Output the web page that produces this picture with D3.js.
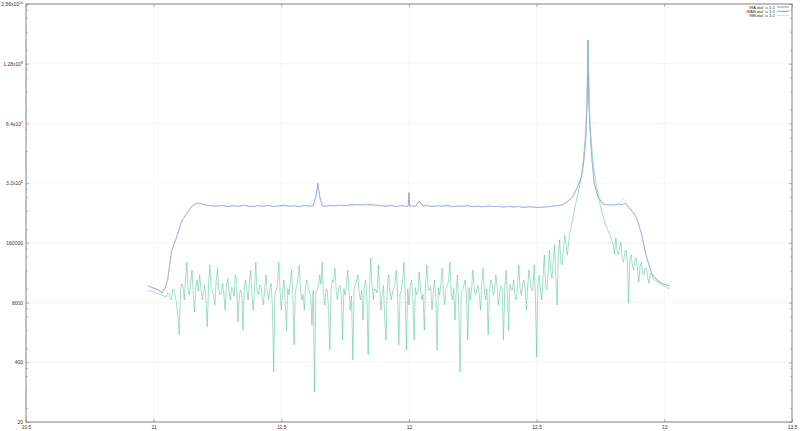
<!DOCTYPE html>
<html><head><meta charset="utf-8">
<script src="https://cdn.jsdelivr.net/npm/d3@7"></script>
<style>html,body{margin:0;padding:0;background:#fff;}svg{display:block;font-family:"Liberation Sans",Arial,sans-serif;}</style>
</head><body>
<svg id="c" width="800" height="431"></svg>
<script>
// ---------- data ----------
const xTicks = [10.5, 11, 11.5, 12, 12.5, 13, 13.5];
const xTickLabels = ["10.5", "11", "11.5", "12", "12.5", "13", "13.5"];
const yTicks = [20, 400, 8000, 160000, 3.2e6, 6.4e7, 1.28e9, 2.56e10];
const yLabelBase = ["20", "400", "8000", "160000", "3.2x10", "6.4x10", "1.28x10", "2.56x10"];
const yLabelExp = ["", "", "", "", "6", "7", "9", "10"];
const yMinorFactors = [2, 5, 10, 15];
const seriesNames = ["'fffA.dat' u 1:2", "'fffAB.dat' u 1:2", "'fffB.dat' u 1:2"];

const aX = [10.978, 11.0, 11.02, 11.033, 11.045, 11.055, 11.07, 11.09, 11.11, 11.13, 11.15, 11.17, 11.19, 11.21, 11.23,
  11.25, 11.27, 11.29, 11.31, 11.33, 11.35, 11.37, 11.39, 11.41, 11.43, 11.45, 11.47, 11.49, 11.51, 11.53, 11.55, 11.57, 11.59, 11.61,
  11.625, 11.635, 11.643, 11.65, 11.66, 11.67, 11.69, 11.71, 11.73, 11.75, 11.77, 11.79, 11.81, 11.83, 11.85, 11.87, 11.89, 11.91, 11.93, 11.95, 11.97, 11.99,
  11.997, 12.0, 12.003, 12.01, 12.025, 12.04, 12.055, 12.07, 12.09, 12.11, 12.13, 12.15, 12.17, 12.19, 12.21, 12.23, 12.25, 12.27, 12.29, 12.31, 12.33, 12.35,
  12.37, 12.39, 12.41, 12.43, 12.45, 12.47, 12.49, 12.51, 12.53, 12.55, 12.57, 12.6, 12.62, 12.64, 12.66, 12.675, 12.685, 12.693, 12.698, 12.701,
  12.704, 12.708, 12.715, 12.725, 12.74, 12.76, 12.78, 12.8, 12.82, 12.835, 12.845, 12.855, 12.87, 12.89, 12.91, 12.93, 12.95, 12.97, 12.99, 13.02];
const aY = [1.84e4, 1.66e4, 1.5e4, 1.29e4, 1.66e4, 2.5e4, 1.03e5, 2.15e5, 4.8e5, 7.1e5, 1.02e6, 1.18e6, 1.12e6, 1.05e6, 1.02e6,
  1.02e6, 1.05e6, 0.99e6, 1.03e6, 1.0e6, 1.06e6, 1.01e6, 0.98e6, 1.04e6, 1.0e6, 1.05e6, 0.99e6, 1.02e6, 1.06e6, 1.0e6, 1.03e6, 0.98e6, 1.04e6, 1.01e6,
  1.03e6, 1.6e6, 3.2e6, 1.7e6, 1.02e6, 1.0e6, 1.05e6, 1.02e6, 1.06e6, 1.03e6, 1.08e6, 1.1e6, 1.07e6, 1.11e6, 1.08e6, 1.06e6, 1.04e6, 1.0e6, 1.04e6, 0.99e6, 1.03e6, 1.0e6,
  1.02e6, 2.0e6, 1.0e6, 1.03e6, 1.0e6, 1.3e6, 1.01e6, 1.04e6, 0.99e6, 1.03e6, 1.0e6, 1.05e6, 0.98e6, 1.02e6, 1.0e6, 1.04e6, 0.98e6, 1.01e6, 0.97e6, 1.02e6, 0.99e6, 1.0e6,
  0.96e6, 1.0e6, 0.97e6, 0.99e6, 0.95e6, 0.98e6, 0.96e6, 0.94e6, 0.97e6, 0.99e6, 1.02e6, 1.07e6, 1.24e6, 1.6e6, 2.6e6, 4.36e6, 1.02e7, 3.24e7, 2.07e8, 4.2e9,
  2.07e8, 5.9e7, 1.3e7, 3.2e6, 1.6e6, 1.12e6, 1.07e6, 1.07e6, 1.12e6, 1.07e6, 1.18e6, 1.02e6, 8.3e5, 5.85e5, 2.62e5, 7.9e4, 3.5e4, 2.5e4, 2.1e4, 1.84e4];

const abX = [10.978, 11.0, 11.02, 11.04,
  11.05, 11.055, 11.06, 11.065, 11.07, 11.075, 11.08, 11.085, 11.09, 11.095, 11.10, 11.105, 11.11, 11.115, 11.12, 11.125, 11.13, 11.135, 11.14, 11.145,
  11.15, 11.155, 11.16, 11.165, 11.17, 11.175, 11.18, 11.185, 11.19, 11.195, 11.20, 11.205, 11.21, 11.215, 11.22, 11.225, 11.23, 11.235, 11.24, 11.245,
  11.25, 11.255, 11.26, 11.265, 11.27, 11.275, 11.28, 11.285, 11.29, 11.295, 11.30, 11.305, 11.31, 11.315, 11.32, 11.325, 11.33, 11.335, 11.34, 11.345,
  11.35, 11.355, 11.36, 11.365, 11.37, 11.375, 11.38, 11.385, 11.39, 11.395, 11.40, 11.405, 11.41, 11.415, 11.42, 11.425, 11.43, 11.435, 11.44, 11.445,
  11.45, 11.455, 11.46, 11.465, 11.47, 11.475, 11.48, 11.485, 11.49, 11.495, 11.50, 11.505, 11.51, 11.515, 11.52, 11.525, 11.53, 11.535, 11.54, 11.545,
  11.55, 11.555, 11.56, 11.565, 11.57, 11.575, 11.58, 11.585, 11.59, 11.595, 11.60, 11.605, 11.61, 11.615, 11.62, 11.625, 11.63, 11.635, 11.64, 11.645,
  11.65, 11.655, 11.66, 11.665, 11.67, 11.675, 11.68, 11.685, 11.69, 11.695, 11.70, 11.705, 11.71, 11.715, 11.72, 11.725, 11.73, 11.735, 11.74, 11.745,
  11.75, 11.755, 11.76, 11.765, 11.77, 11.775, 11.78, 11.785, 11.79, 11.795, 11.80, 11.805, 11.81, 11.815, 11.82, 11.825, 11.83, 11.835, 11.84, 11.845,
  11.85, 11.855, 11.86, 11.865, 11.87, 11.875, 11.88, 11.885, 11.89, 11.895, 11.90, 11.905, 11.91, 11.915, 11.92, 11.925, 11.93, 11.935, 11.94, 11.945,
  11.95, 11.955, 11.96, 11.965, 11.97, 11.975, 11.98, 11.985, 11.99, 11.995, 12.00, 12.005, 12.01, 12.015, 12.02, 12.025, 12.03, 12.035, 12.04, 12.045,
  12.05, 12.055, 12.06, 12.065, 12.07, 12.075, 12.08, 12.085, 12.09, 12.095, 12.10, 12.105, 12.11, 12.115, 12.12, 12.125, 12.13, 12.135, 12.14, 12.145,
  12.15, 12.155, 12.16, 12.165, 12.17, 12.175, 12.18, 12.185, 12.19, 12.195, 12.20, 12.205, 12.21, 12.215, 12.22, 12.225, 12.23, 12.235, 12.24, 12.245,
  12.25, 12.255, 12.26, 12.265, 12.27, 12.275, 12.28, 12.285, 12.29, 12.295, 12.30, 12.305, 12.31, 12.315, 12.32, 12.325, 12.33, 12.335, 12.34, 12.345,
  12.35, 12.355, 12.36, 12.365, 12.37, 12.375, 12.38, 12.385, 12.39, 12.395, 12.40, 12.405, 12.41, 12.415, 12.42, 12.425, 12.43, 12.435, 12.44, 12.445,
  12.45, 12.455, 12.46, 12.465, 12.47, 12.475, 12.48, 12.485, 12.49, 12.495, 12.50, 12.505, 12.51, 12.515, 12.52, 12.525, 12.53, 12.535, 12.54, 12.545,
  12.55, 12.555, 12.56, 12.565, 12.57, 12.575, 12.58, 12.585, 12.59, 12.595, 12.60, 12.605, 12.61, 12.615, 12.62,
  12.63, 12.65, 12.665, 12.68, 12.69, 12.697, 12.701, 12.705, 12.71, 12.72, 12.73, 12.75, 12.77, 12.79,
  12.80, 12.805, 12.81, 12.815, 12.82, 12.825, 12.83, 12.835, 12.84, 12.845, 12.85, 12.855, 12.86, 12.865, 12.87, 12.875, 12.88, 12.885, 12.89, 12.895,
  12.90, 12.905, 12.91, 12.915, 12.92, 12.925, 12.93, 12.935, 12.94, 12.945, 12.95, 12.96, 12.98, 13.00, 13.02];
const abY = [1.5e4, 1.36e4, 1.23e4, 1.11e4,
  1.06e4, 1.3e4, 1.23e4, 1.0e4, 9.1e3, 1.6e4, 1.5e4, 1.1e4, 7.1e3, 4.0e3, 1.57e3, 1.4e4, 2.03e4, 1.8e4, 9.1e3, 2.6e4, 6.1e4, 1.5e4, 1.17e4, 2.2e4,
  4.1e4, 1.2e4, 5.0e3, 1.8e4, 2.5e4, 1.4e4, 3.2e4, 1.7e4, 9.1e3, 1.3e4, 1.9e4, 9.0e3, 2.35e3, 2.0e4, 5.3e4, 1.6e4, 1.5e4, 1.1e4, 7.1e3, 2.4e4,
  4.5e4, 1.5e4, 1.17e4, 1.3e4, 2.1e4, 1.2e4, 5.5e3, 1.9e4, 2.7e4, 1.4e4, 9.1e3, 1.7e4, 1.66e4, 1.1e4, 3.2e4, 2.1e4, 3.0e3, 1.0e4, 1.5e4, 1.3e4,
  2.0e3, 1.8e4, 2.5e4, 1.5e4, 9.1e3, 2.2e4, 4.1e4, 1.2e4, 5.5e3, 1.6e4, 6.1e4, 1.4e4, 1.17e4, 1.9e4, 1.9e4, 1.1e4, 7.1e3, 1.7e4, 3.2e4, 1.3e4,
  9.1e3, 1.6e4, 2.1e4, 6.0e3, 245, 1.2e4, 1.5e4, 2.0e4, 6.1e4, 1.5e4, 5.5e3, 1.4e4, 2.5e4, 9.0e3, 2.0e3, 1.6e4, 1.17e4, 2.3e4, 4.1e4, 1.2e4,
  950, 1.4e4, 1.9e4, 2.6e4, 5.3e4, 1.6e4, 9.1e3, 1.2e4, 5.5e3, 1.8e4, 2.5e4, 1.7e4, 1.29e4, 1.1e4, 2.6e3, 1.5e4, 90, 1.3e4, 1.5e4, 1.9e4,
  3.2e4, 2.0e4, 6.1e4, 1.3e4, 7.1e3, 1.6e4, 1.5e4, 5.0e3, 740, 1.5e4, 2.5e4, 2.2e4, 4.5e4, 1.4e4, 9.1e3, 1.7e4, 1.9e4, 1.2e4, 1.22e3, 1.6e4,
  1.17e4, 1.9e4, 4.1e4, 1.4e4, 5.5e3, 1.1e4, 449, 1.6e4, 1.9e4, 2.4e4, 3.2e4, 1.3e4, 9.1e3, 1.5e4, 3.3e3, 1.8e4, 2.5e4, 1.0e4, 577, 1.5e4,
  7.5e4, 2.1e4, 9.1e3, 1.6e4, 1.5e4, 1.3e4, 5.3e4, 1.8e4, 5.5e3, 1.2e4, 1.9e4, 3.5e3, 1.22e3, 1.7e4, 3.2e4, 1.5e4, 9.1e3, 1.3e4, 1.66e4, 2.0e4,
  4.1e4, 1.5e4, 950, 1.2e4, 1.5e4, 2.4e4, 6.1e4, 1.4e4, 740, 1.6e4, 7.1e3, 1.9e4, 2.5e4, 1.1e4, 1.22e3, 1.7e4, 1.17e4, 1.4e4, 3.7e4, 1.6e4,
  9.1e3, 1.2e4, 2.0e3, 2.2e4, 5.3e4, 1.5e4, 1.5e4, 1.8e4, 5.5e3, 1.3e4, 2.5e4, 1.0e4, 740, 1.7e4, 1.17e4, 2.0e4, 4.5e4, 1.4e4, 7.1e3, 1.6e4,
  1.9e4, 2.3e4, 6.1e4, 1.3e4, 9.1e3, 1.6e4, 3.3e3, 1.5e4, 3.2e4, 6.0e3, 245, 1.4e4, 1.5e4, 1.9e4, 2.5e4, 1.2e4, 1.22e3, 1.7e4, 9.1e3, 1.5e4,
  4.1e4, 1.8e4, 1.17e4, 1.4e4, 1.9e4, 1.2e4, 5.5e3, 2.1e4, 4.5e4, 1.5e4, 9.1e3, 1.6e4, 1.57e3, 1.3e4, 2.5e4, 2.2e4, 1.17e4, 1.5e4, 3.2e4, 1.9e4,
  7.1e3, 1.3e4, 1.9e4, 1.7e4, 1.22e3, 1.6e4, 4.1e4, 1.4e4, 2.0e3, 2.0e4, 1.5e4, 1.5e4, 2.5e4, 1.1e4, 9.1e3, 1.8e4, 5.3e4, 1.6e4, 1.17e4, 2.1e4,
  2.5e4, 1.6e4, 5.5e3, 1.9e4, 4.1e4, 2.4e4, 1.5e4, 1.5e4, 5.3e4, 1.2e4, 521, 2.2e4, 3.2e4, 1.4e4, 9.1e3, 3.0e4, 8.7e4, 1.8e4, 1.5e4, 3.5e4,
  1.12e5, 4.0e4, 2.7e4, 6.5e4, 1.44e5, 3.0e4, 7.1e3, 9.0e4, 1.85e5, 6.0e4, 5.3e4, 1.2e5, 2.37e5, 1.5e5, 8.7e4,
  2.62e5, 9.7e5, 2.27e6, 6.2e6, 3.24e7, 2.07e8, 4.2e9, 3.97e8, 4.6e7, 1.02e7, 3.74e6, 9.7e5, 3.92e5, 2.15e5,
  1.44e5, 9.0e4, 2.04e5, 1.1e5, 8.7e4, 1.3e5, 1.67e5, 7.0e4, 6.1e4, 1.0e5, 1.12e5, 6.5e4, 7.8e3, 7.0e4, 8.7e4, 5.0e4, 4.1e4, 6.5e4, 7.5e4, 4.0e4,
  2.24e4, 5.0e4, 6.1e4, 3.5e4, 3.2e4, 4.5e4, 4.5e4, 2.8e4, 2.1e4, 3.5e4, 3.2e4, 2.5e4, 2.1e4, 1.84e4, 1.58e4];

const bX = [10.978, 11.033, 11.055, 11.07, 11.09, 11.11, 11.13, 11.15, 11.17, 11.2,
  11.24, 11.28, 11.32, 11.36, 11.40, 11.44, 11.48, 11.52, 11.56, 11.60, 11.635, 11.643, 11.65, 11.68,
  11.72, 11.76, 11.80, 11.84, 11.88, 11.92, 11.96, 12.0, 12.04, 12.08, 12.12, 12.16, 12.20, 12.24, 12.28,
  12.32, 12.36, 12.40, 12.44, 12.48, 12.52, 12.56, 12.6, 12.64, 12.675, 12.693, 12.701, 12.708, 12.725, 12.76,
  12.80, 12.825, 12.838, 12.848, 12.86, 12.89, 12.91, 12.93, 12.95, 12.99, 13.02];
const bY = [1.84e4, 1.29e4, 2.5e4, 1.03e5, 2.15e5, 4.8e5, 7.1e5, 1.02e6, 1.15e6, 1.07e6,
  1.0e6, 1.04e6, 0.98e6, 1.03e6, 1.01e6, 1.05e6, 0.97e6, 1.02e6, 1.0e6, 1.04e6, 1.5e6, 2.6e6, 1.4e6, 1.01e6,
  1.05e6, 1.02e6, 1.09e6, 1.06e6, 1.02e6, 1.05e6, 0.99e6, 1.4e6, 1.2e6, 1.0e6, 1.03e6, 0.97e6, 1.02e6, 0.99e6, 1.01e6,
  0.98e6, 1.0e6, 0.96e6, 0.99e6, 0.95e6, 0.96e6, 1.0e6, 1.07e6, 1.6e6, 4.36e6, 3.24e7, 4.2e9, 5.9e7, 3.2e6, 1.12e6,
  1.07e6, 1.1e6, 1.5e6, 1.3e6, 1.02e6, 5.85e5, 2.62e5, 7.9e4, 3.5e4, 2.1e4, 1.84e4];

// ---------- chart ----------
const svg = d3.select("#c");
const L = 26, R = 792, T = 4, B = 422;
const x = d3.scaleLinear().domain([10.5, 13.5]).range([L, R]);
const y = d3.scaleLog().domain([20, 2.56e10]).range([B, T]);
const fontSize = 5;
const txtColor = "#333";

// grid
const grid = svg.append("g");
grid.selectAll("line.gx").data(xTicks.slice(1, -1)).enter().append("line")
  .attr("x1", d => x(d)).attr("x2", d => x(d)).attr("y1", T).attr("y2", B)
  .attr("stroke", "#e2e2e2").attr("stroke-width", 0.6).attr("stroke-dasharray", "1,1");
grid.selectAll("line.gy").data(yTicks.slice(1, -1)).enter().append("line")
  .attr("x1", L).attr("x2", R).attr("y1", d => y(d)).attr("y2", d => y(d))
  .attr("stroke", "#e2e2e2").attr("stroke-width", 0.6).attr("stroke-dasharray", "1,1");

// series
const line = d3.line().x(d => x(d[0])).y(d => y(d[1]));
const zip = (xs, ys) => xs.map((v, i) => [v, ys[i]]);
const seriesStyle = [
  {data: zip(aX, aY), color: "#8f7ade", w: 0.8, op: 0.95},
  {data: zip(abX, abY), color: "#3dbf93", w: 0.7, op: 0.7},
  {data: zip(bX, bY), color: "#9fdfd6", w: 0.8, op: 0.5}
];
const plot = svg.append("g");
seriesStyle.forEach(s => {
  plot.append("path").datum(s.data).attr("d", line)
    .attr("fill", "none").attr("stroke", s.color).attr("stroke-width", s.w)
    .attr("stroke-opacity", s.op).attr("stroke-linejoin", "round");
});

// axes via d3 axis generators
const axisCol = "#7a7a7a";
const yAxis = d3.axisLeft(y).tickValues(yTicks).tickSizeInner(-3).tickSizeOuter(0).tickPadding(3)
  .tickFormat((d, i) => yLabelBase[i]);
const gy = svg.append("g").attr("transform", `translate(${L},0)`).call(yAxis);
gy.selectAll("text").each(function(d, i) {
  const t = d3.select(this);
  t.text(null).attr("font-size", fontSize).attr("fill", txtColor).attr("font-family", '"Liberation Sans",Arial,sans-serif');
  t.append("tspan").text(yLabelBase[i]);
  if (yLabelExp[i]) t.append("tspan").attr("dy", -2).attr("font-size", 3.5).text(yLabelExp[i]);
});
svg.append("g").attr("transform", `translate(${R},0)`)
  .call(d3.axisRight(y).tickValues(yTicks).tickSizeInner(-3).tickSizeOuter(0).tickFormat(""));

const minorVals = [];
yTicks.slice(0, -1).forEach(m => yMinorFactors.forEach(f => minorVals.push(m * f)));
svg.append("g").attr("transform", `translate(${L},0)`)
  .call(d3.axisLeft(y).tickValues(minorVals).tickSizeInner(-1.6).tickSizeOuter(0).tickFormat(""));
svg.append("g").attr("transform", `translate(${R},0)`)
  .call(d3.axisRight(y).tickValues(minorVals).tickSizeInner(-1.6).tickSizeOuter(0).tickFormat(""));

const xAxis = d3.axisBottom(x).tickValues(xTicks).tickSizeInner(-3).tickSizeOuter(0).tickPadding(3)
  .tickFormat((d, i) => xTickLabels[i]);
const gx = svg.append("g").attr("transform", `translate(0,${B})`).call(xAxis);
gx.selectAll("text").attr("font-size", fontSize).attr("fill", txtColor).attr("font-family", '"Liberation Sans",Arial,sans-serif');
svg.append("g").attr("transform", `translate(0,${T})`)
  .call(d3.axisTop(x).tickValues(xTicks).tickSizeInner(-3).tickSizeOuter(0).tickFormat(""));

svg.selectAll(".domain").remove();
svg.selectAll(".tick line").attr("stroke", axisCol).attr("stroke-width", 0.6);

// border
svg.append("rect").attr("x", L).attr("y", T).attr("width", R - L).attr("height", B - T)
  .attr("fill", "none").attr("stroke", "#808080").attr("stroke-width", 1);

// legend
const leg = svg.append("g");
seriesNames.forEach((n, i) => {
  const yy = 7 + i * 4.3;
  leg.append("text").attr("x", 775).attr("y", yy + 1.6).attr("text-anchor", "end")
    .attr("font-size", 4.4).attr("fill", txtColor).text(n);
  leg.append("line").attr("x1", 777).attr("x2", 789).attr("y1", yy).attr("y2", yy)
    .attr("stroke", seriesStyle[i].color).attr("stroke-width", 0.9).attr("stroke-opacity", i === 2 ? 0.8 : 1);
});
</script>
</body></html>
